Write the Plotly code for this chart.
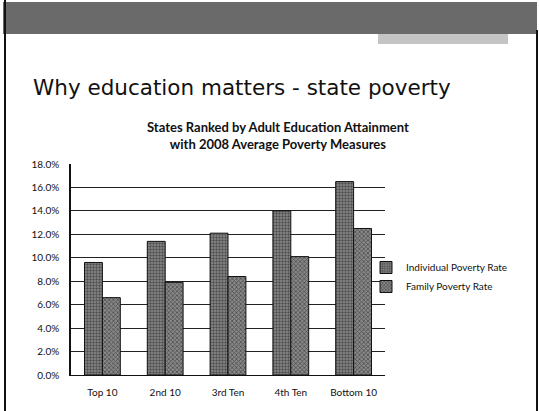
import plotly.graph_objects as go

# Poverty rates by state education-attainment group (2008 averages)
groups = ["Top 10", "2nd 10", "3rd Ten", "4th Ten", "Bottom 10"]
individual_rate = [0.096, 0.114, 0.121, 0.140, 0.165]
family_rate = [0.066, 0.079, 0.084, 0.101, 0.125]
y_ticks = [0.0, 0.02, 0.04, 0.06, 0.08, 0.10, 0.12, 0.14, 0.16, 0.18]

W, H = 539, 411
L, R, T, B = 71, 154, 164, 36
PW, PH = W - L - R, H - T - B


def px_x(px):
    return (px - L) / PW


def px_y(py):
    return (H - B - py) / PH


fig = go.Figure()
fig.add_trace(go.Bar(
    name="Individual Poverty Rate", x=groups, y=individual_rate,
    marker=dict(color="#6e6e6e", line=dict(color="#111", width=1),
                pattern=dict(shape=".", fgcolor="#111", bgcolor="#8c8c8c",
                             size=3, solidity=0.5)),
))
fig.add_trace(go.Bar(
    name="Family Poverty Rate", x=groups, y=family_rate,
    marker=dict(color="#666", line=dict(color="#111", width=1),
                pattern=dict(shape="x", fgcolor="#111", bgcolor="#888",
                             size=3, solidity=0.45)),
))

tick_font = dict(family="Lato, Liberation Sans, sans-serif", size=10, color="#111")

fig.update_layout(
    width=W, height=H,
    margin=dict(l=L, r=R, t=T, b=B),
    paper_bgcolor="white", plot_bgcolor="white",
    barmode="group", bargap=0.43, bargroupgap=0,
    showlegend=True,
    legend=dict(x=px_x(366), y=px_y(277), xanchor="left", yanchor="middle",
                font=dict(family="Lato, Liberation Sans, sans-serif", size=10, color="#111"),
                itemwidth=30, tracegroupgap=0, bgcolor="rgba(0,0,0,0)"),
    title=dict(text="Why education matters - state poverty",
               x=33 / W, xanchor="left", y=1 - 87 / H, yanchor="middle",
               font=dict(family="DejaVu Sans, sans-serif", size=21.5, color="#111")),
    xaxis=dict(showline=True, linecolor="#111", linewidth=1, ticks="",
               tickfont=tick_font, ticklabelstandoff=8),
    yaxis=dict(range=[0, 0.18], tickvals=y_ticks, tickformat=".1%",
               showgrid=True, gridcolor="#222", gridwidth=1,
               showline=True, linecolor="#111", linewidth=1.5, ticks="",
               tickfont=tick_font, ticklabelstandoff=8, zeroline=False),
    annotations=[dict(
        text="<b>States Ranked by Adult Education Attainment<br>with 2008 Average Poverty Measures</b>",
        xref="paper", yref="paper", x=px_x(278), y=px_y(135),
        xanchor="center", yanchor="middle", showarrow=False,
        font=dict(family="Lato, Liberation Sans, sans-serif", size=13, color="#111"),
    )],
    shapes=[
        # scanned header band across the top of the slide
        dict(type="rect", xref="paper", yref="paper",
             x0=px_x(3), x1=px_x(537), y0=px_y(34), y1=px_y(2),
             fillcolor="#6a6a6a", line=dict(width=0), layer="below"),
        dict(type="rect", xref="paper", yref="paper",
             x0=px_x(378), x1=px_x(508), y0=px_y(44), y1=px_y(34),
             fillcolor="#c4c4c4", line=dict(width=0), layer="below"),
        # slide border lines
        dict(type="line", xref="paper", yref="paper",
             x0=px_x(5), x1=px_x(5), y0=px_y(0), y1=px_y(411),
             line=dict(color="#111", width=2)),
        dict(type="line", xref="paper", yref="paper",
             x0=px_x(537), x1=px_x(537), y0=px_y(30), y1=px_y(411),
             line=dict(color="#111", width=2)),
    ],
)

fig.write_html("out.html")
